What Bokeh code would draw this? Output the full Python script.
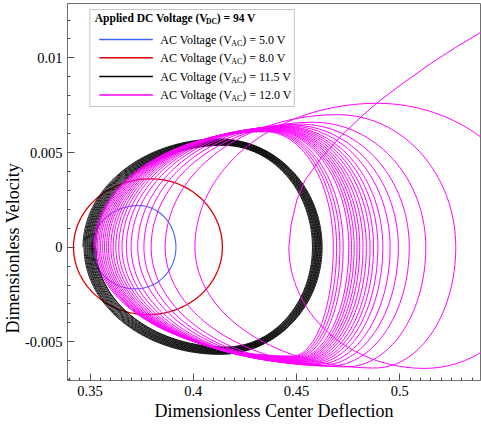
import numpy as np
from bokeh.plotting import figure
from bokeh.models import Range1d, FixedTicker, CustomJSTickFormatter, Label, BoxAnnotation, Title
from bokeh.embed import file_html
from bokeh.resources import INLINE

# ---------------- data ----------------
x_ticks = [0.35, 0.4, 0.45, 0.5]
x_tick_labels = ["0.35", "0.4", "0.45", "0.5"]
y_ticks = [-0.005, 0.0, 0.005, 0.01]
y_tick_labels = ["-0.005", "0", "0.005", "0.01"]

legend_title = "Applied DC Voltage (V"
legend_title_sub = "DC"
legend_title_tail = ") = 94 V"
ac_voltages = ["5.0", "8.0", "11.5", "12.0"]
series_colors = ["#4060FF", "#DD0000", "#000000", "#FF00FF"]

# each orbit loop: left turning point, top (x, v), right turning point, bottom (x, v)
blue_left, blue_top_x, blue_top_v, blue_right, blue_bot_x, blue_bot_v = 0.3510, 0.3735, 0.00220, 0.3916, 0.3720, -0.00220
red_left, red_top_x, red_top_v, red_right, red_bot_x, red_bot_v = 0.3420, 0.3795, 0.00361, 0.4141, 0.3780, -0.00356

black_left = [0.3466, 0.3471, 0.3476, 0.3480, 0.3485, 0.3489, 0.3494, 0.3498, 0.3503, 0.3507, 0.3512, 0.3517, 0.3522, 0.3528]
black_right = [0.4624, 0.4620, 0.4617, 0.4613, 0.4610, 0.4606, 0.4603, 0.4599, 0.4596, 0.4592, 0.4589, 0.4585, 0.4581, 0.4577]
black_top_x = [0.4125, 0.4127, 0.4128, 0.4130, 0.4131, 0.4132, 0.4134, 0.4135, 0.4136, 0.4138, 0.4139, 0.4140, 0.4142, 0.4143]
black_top_v = [0.00572, 0.00569, 0.00567, 0.00564, 0.00561, 0.00559, 0.00556, 0.00553, 0.00551, 0.00548, 0.00546, 0.00543, 0.00540, 0.00538]
black_bot_x = [0.4130, 0.4132, 0.4134, 0.4136, 0.4138, 0.4140, 0.4142, 0.4144, 0.4146, 0.4148, 0.4150, 0.4152, 0.4154, 0.4156]
black_bot_v = [-0.00566, -0.00563, -0.00560, -0.00557, -0.00554, -0.00551, -0.00548, -0.00545, -0.00542, -0.00539, -0.00536, -0.00533, -0.00530, -0.00527]

mag_left = [0.3519, 0.3527, 0.3535, 0.3543, 0.3551, 0.3561, 0.3570, 0.3580, 0.3589, 0.3601,
            0.3612, 0.3625, 0.3639, 0.3655, 0.3676, 0.3699, 0.3731, 0.3761, 0.3796, 0.3864]
mag_right = [0.4678, 0.4694, 0.4710, 0.4726, 0.4753, 0.4766, 0.4779, 0.4793, 0.4806, 0.4822,
             0.4838, 0.4856, 0.4873, 0.4894, 0.4918, 0.4953, 0.4993, 0.5046, 0.5126, 0.5271]
mag_top_x = [0.4350, 0.4355, 0.4360, 0.4365, 0.4370, 0.4375, 0.4380, 0.4385, 0.4390, 0.4395,
             0.4400, 0.4410, 0.4420, 0.4430, 0.4440, 0.4460, 0.4480, 0.4520, 0.4580, 0.4700]
mag_top_v = [0.00610, 0.00612, 0.00614, 0.00616, 0.00618, 0.00620, 0.00622, 0.00624, 0.00626, 0.00628,
             0.00630, 0.00632, 0.00634, 0.00636, 0.00638, 0.00641, 0.00645, 0.00650, 0.00660, 0.00700]
mag_bot_x = [0.4480, 0.4485, 0.4490, 0.4495, 0.4500, 0.4505, 0.4510, 0.4515, 0.4520, 0.4525,
             0.4530, 0.4540, 0.4550, 0.4560, 0.4575, 0.4595, 0.4620, 0.4660, 0.4740, 0.4880]
mag_bot_v = [-0.00575, -0.00578, -0.00581, -0.00584, -0.00587, -0.00590, -0.00593, -0.00596, -0.00599, -0.00602,
             -0.00605, -0.00608, -0.00611, -0.00614, -0.00617, -0.00620, -0.00624, -0.00628, -0.00632, -0.00638]
# last (pull-in) loop and escape path
mag_final_loop = [0.4008, 0.4890, 0.00760, 0.5670, 0.5120, -0.00640, 0.4463]
escape_x = [0.4463, 0.4473, 0.4501, 0.4540, 0.4621, 0.4718, 0.4814, 0.4886, 0.5006, 0.5150, 0.5270, 0.5391]
escape_v = [0.0, 0.00115, 0.00247, 0.00352, 0.00474, 0.00590, 0.00690, 0.00759, 0.00859, 0.00970, 0.01055, 0.01134]

# ---------------- geometry / style ----------------
X_START, X_END = 0.33909, 0.53909
Y_START, Y_END = -0.007041, 0.012872
FL, FR, FT, FB = 64, 480, 3, 380  # frame position on the page (px)
FONT = "Liberation Serif"


def loop_xy(L, xt, vt, R, xb, vb, L2, n=110):
    th = np.linspace(np.pi, 0, n)
    c, s = np.cos(th), np.sin(th)
    xs_top = np.where(c < 0, xt + (xt - L) * c, xt + (R - xt) * c)
    ys_top = vt * s
    th2 = np.linspace(0, -np.pi, n)
    c2, s2 = np.cos(th2), np.sin(th2)
    xs_bot = np.where(c2 >= 0, xb + (R - xb) * c2, xb + (xb - L2) * c2)
    ys_bot = -vb * s2
    return np.concatenate([xs_top, xs_bot[1:]]), np.concatenate([ys_top, ys_bot[1:]])


def spiral(Ls, xts, vts, Rs, xbs, vbs, last_next):
    X, Y = [], []
    for k in range(len(Ls)):
        nxt = Ls[k + 1] if k + 1 < len(Ls) else last_next
        x, y = loop_xy(Ls[k], xts[k], vts[k], Rs[k], xbs[k], vbs[k], nxt)
        X.append(x)
        Y.append(y)
    return np.concatenate(X), np.concatenate(Y)


p = figure(width=481, height=425, x_range=Range1d(X_START, X_END), y_range=Range1d(Y_START, Y_END),
           output_backend="svg", toolbar_location=None,
           min_border_left=FL, min_border_right=481 - FR, min_border_top=FT, min_border_bottom=425 - FB)
p.xgrid.visible = False
p.ygrid.visible = False
p.outline_line_color = "#707070"
p.outline_line_width = 1
p.background_fill_color = "white"
p.border_fill_color = "white"

# blue
bx, by = loop_xy(blue_left, blue_top_x, blue_top_v, blue_right, blue_bot_x, blue_bot_v, blue_left)
p.line(bx, by, line_color=series_colors[0], line_width=1.1)
# red
rx, ry = loop_xy(red_left, red_top_x, red_top_v, red_right, red_bot_x, red_bot_v, red_left)
p.line(rx, ry, line_color=series_colors[1], line_width=1.3)
# black
kx, ky = spiral(black_left, black_top_x, black_top_v, black_right, black_bot_x, black_bot_v, black_left[-1])
p.line(kx, ky, line_color=series_colors[2], line_width=0.9)
# magenta
mx, my = spiral(mag_left, mag_top_x, mag_top_v, mag_right, mag_bot_x, mag_bot_v, mag_final_loop[0])
fx, fy = loop_xy(*mag_final_loop)
mx = np.concatenate([mx, fx, np.array(escape_x)])
my = np.concatenate([my, fy, np.array(escape_v)])
p.line(mx, my, line_color=series_colors[3], line_width=1.0)

# axes
for ax, ticks, labels, minor in ((p.xaxis, x_ticks, x_tick_labels, np.round(np.arange(0.340, 0.5401, 0.005), 4)),
                                  (p.yaxis, y_ticks, y_tick_labels, np.round(np.arange(-0.007, 0.0129, 0.001), 4))):
    ax.ticker = FixedTicker(ticks=ticks, minor_ticks=minor.tolist())
    ax.formatter = CustomJSTickFormatter(code="return tick.toString();")
    ax.major_label_overrides = dict(zip(ticks, labels))
    ax.axis_line_color = "#707070"
    ax.major_tick_line_color = "#505050"
    ax.minor_tick_line_color = "#505050"
    ax.major_tick_in = 7
    ax.major_tick_out = 0
    ax.minor_tick_in = 3
    ax.minor_tick_out = 0
    ax.major_label_text_font = FONT
    ax.major_label_text_font_size = "14.5px"
    ax.major_label_text_color = "black"
p.xaxis.major_label_standoff = 5
p.yaxis.major_label_standoff = 5
p.xaxis.axis_label = "Dimensionless Center Deflection"
p.xaxis.axis_label_text_font = FONT
p.xaxis.axis_label_text_font_size = "18px"
p.xaxis.axis_label_text_font_style = "normal"
p.xaxis.axis_label_text_color = "black"
p.xaxis.axis_label_standoff = 2

# y-axis title (centred on v = 0 as in the original)
p.add_layout(Title(text="Dimensionless Velocity", align="left", offset=47, standoff=0,
                   text_font=FONT, text_font_size="18px", text_font_style="normal", text_color="black"), "left")


def dx(px):
    return X_START + (px - FL) / (FR - FL) * (X_END - X_START)


def dy(py):
    return Y_END - (py - FT) / (FB - FT) * (Y_END - Y_START)


# legend (built by hand for the subscripts)
LB_L, LB_R, LB_T, LB_B = 86.5, 292.5, 9, 106
p.add_layout(BoxAnnotation(left=dx(LB_L), right=dx(LB_R), top=dy(LB_T), bottom=dy(LB_B),
                           fill_color="white", fill_alpha=1, line_color="#404040", line_width=1))
ty = 17
tx = 91.5
p.add_layout(Label(x=dx(tx), y=dy(ty), text=legend_title, text_font=FONT, text_font_size="11.5px",
                   text_font_style="bold", text_color="black", text_baseline="middle"))
w_main = 9.916 * 11.5 - 2.0
p.add_layout(Label(x=dx(tx + w_main), y=dy(ty + 3.5), text=legend_title_sub, text_font=FONT, text_font_size="7.5px",
                   text_font_style="bold", text_color="black", text_baseline="middle"))
p.add_layout(Label(x=dx(tx + w_main + 1.444 * 7.5), y=dy(ty), text=legend_title_tail, text_font=FONT,
                   text_font_size="11.5px", text_font_style="bold", text_color="black", text_baseline="middle"))

row_y = [39, 57.3, 76, 94.5]
for yy, volt, col in zip(row_y, ac_voltages, series_colors):
    p.add_layout(BoxAnnotation(left=dx(96), right=dx(150), top=dy(yy - 0.8), bottom=dy(yy + 0.8),
                               fill_color=col, fill_alpha=1, line_alpha=0))
    x0 = 157.5
    p.add_layout(Label(x=dx(x0), y=dy(yy), text="AC Voltage (V", text_font=FONT, text_font_size="12px",
                       text_color="black", text_baseline="middle"))
    wm = 6.11 * 12 - 2.0
    p.add_layout(Label(x=dx(x0 + wm), y=dy(yy + 3.5), text="AC", text_font=FONT, text_font_size="8px",
                       text_color="black", text_baseline="middle"))
    p.add_layout(Label(x=dx(x0 + wm + 1.389 * 8), y=dy(yy), text=") = " + volt + " V", text_font=FONT,
                       text_font_size="12px", text_color="black", text_baseline="middle"))

open("out.html", "w").write(file_html(p, INLINE))
